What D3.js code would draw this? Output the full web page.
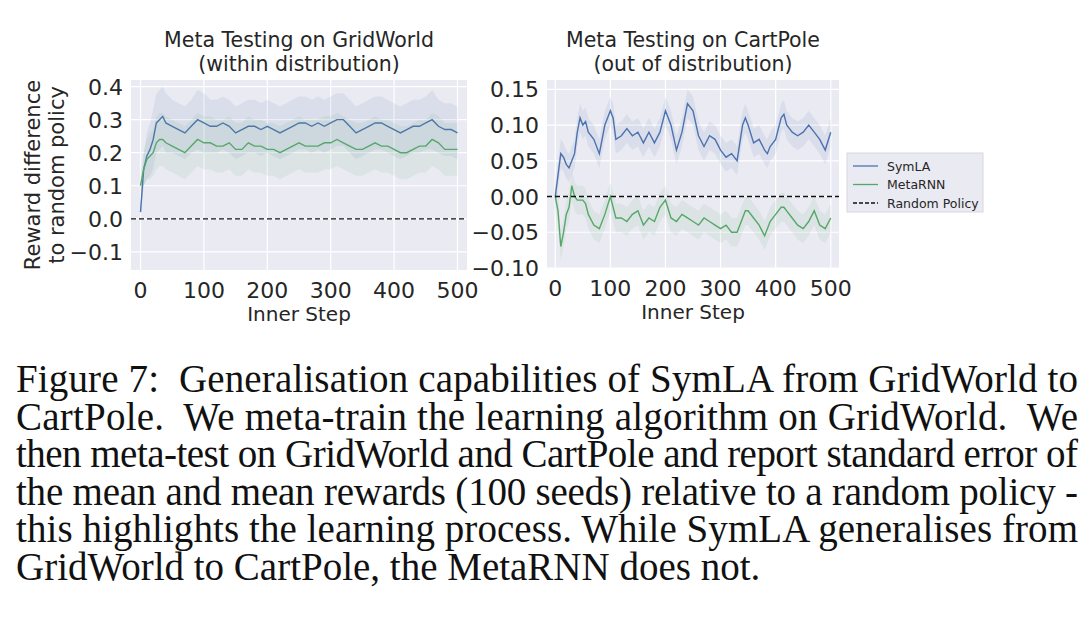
<!DOCTYPE html>
<html><head><meta charset="utf-8">
<script src="https://cdn.jsdelivr.net/npm/d3@7"></script>
<style>body{margin:0;background:#fff}</style>
</head><body>
<svg id="c" width="1092" height="632"></svg>
<script>
// GridWorld (left)
var gwSteps = [0,5,10,15,20,25,30,35,40,50,60,70,80,90,100,110,120,130,140,150,160,170,180,190,200,210,220,230,240,250,260,270,280,290,300,310,320,330,340,350,360,370,380,390,400,410,420,430,440,450,460,470,480,490,500];
var gwSym = [0.02,0.15,0.19,0.21,0.24,0.29,0.30,0.31,0.29,0.28,0.27,0.26,0.28,0.30,0.29,0.28,0.28,0.29,0.28,0.26,0.27,0.28,0.28,0.27,0.28,0.27,0.26,0.27,0.28,0.29,0.29,0.28,0.29,0.28,0.29,0.30,0.30,0.28,0.26,0.27,0.28,0.29,0.29,0.28,0.27,0.26,0.27,0.28,0.28,0.29,0.30,0.28,0.27,0.27,0.26];
var gwMeta = [0.10,0.15,0.18,0.19,0.20,0.23,0.24,0.24,0.23,0.22,0.21,0.20,0.22,0.24,0.23,0.23,0.22,0.22,0.23,0.21,0.21,0.23,0.22,0.22,0.21,0.21,0.20,0.21,0.22,0.23,0.22,0.22,0.22,0.23,0.23,0.24,0.23,0.22,0.21,0.21,0.22,0.23,0.22,0.22,0.21,0.20,0.20,0.21,0.22,0.22,0.24,0.23,0.21,0.21,0.21];
var gwSymErr = [0.02,0.05,0.07,0.08,0.09,0.09,0.09,0.09,0.09,0.08,0.08,0.08,0.08,0.09,0.09,0.08,0.08,0.08,0.08,0.08,0.08,0.08,0.08,0.08,0.08,0.08,0.08,0.08,0.08,0.08,0.08,0.08,0.08,0.08,0.08,0.08,0.08,0.08,0.08,0.08,0.08,0.08,0.08,0.08,0.08,0.08,0.08,0.08,0.08,0.08,0.09,0.08,0.08,0.08,0.08];
var gwMetaErr = [0.03,0.05,0.06,0.07,0.07,0.08,0.08,0.08,0.08,0.08,0.08,0.08,0.08,0.08,0.08,0.08,0.08,0.08,0.08,0.08,0.08,0.08,0.08,0.08,0.08,0.08,0.08,0.08,0.08,0.08,0.08,0.08,0.08,0.08,0.08,0.08,0.08,0.08,0.08,0.08,0.08,0.08,0.08,0.08,0.08,0.08,0.08,0.08,0.08,0.08,0.08,0.08,0.08,0.08,0.08];
// CartPole (right)
var cpSteps = [0,5,10,15,20,25,30,35,40,45,50,55,60,70,80,90,100,105,110,120,130,140,150,160,170,180,190,200,210,220,230,240,250,260,270,280,290,300,310,320,330,340,345,350,360,370,380,385,390,400,410,415,420,430,440,450,460,470,480,490,500];
var cpSym = [0.00,0.03,0.06,0.055,0.045,0.04,0.05,0.06,0.09,0.11,0.10,0.105,0.09,0.08,0.06,0.10,0.12,0.11,0.08,0.085,0.095,0.085,0.09,0.075,0.09,0.075,0.09,0.12,0.10,0.065,0.09,0.13,0.12,0.085,0.07,0.085,0.08,0.065,0.055,0.06,0.05,0.10,0.11,0.10,0.075,0.08,0.065,0.06,0.07,0.08,0.11,0.115,0.10,0.09,0.085,0.09,0.10,0.09,0.08,0.065,0.09];
var cpMeta = [0.00,-0.02,-0.07,-0.05,-0.025,-0.015,0.015,0.0,-0.005,-0.005,-0.005,-0.01,-0.025,-0.04,-0.045,-0.025,0.0,-0.015,-0.03,-0.03,-0.035,-0.025,-0.02,-0.04,-0.03,-0.035,-0.015,-0.005,-0.03,-0.035,-0.025,-0.03,-0.035,-0.04,-0.03,-0.035,-0.04,-0.045,-0.04,-0.05,-0.05,-0.03,-0.02,-0.02,-0.03,-0.04,-0.055,-0.045,-0.035,-0.025,-0.015,-0.015,-0.02,-0.03,-0.04,-0.045,-0.035,-0.02,-0.04,-0.045,-0.03];
var cpErr = 0.02;

var blue = '#4c72b0', green = '#55a868', bg = '#eaeaf2';
var svg = d3.select('#c');
var font = 'DejaVu Sans';

function panel(o){
  var x = d3.scaleLinear().domain([-15,515]).range([o.x0,o.x1]);
  var y = d3.scaleLinear().domain(o.ydom).range([o.y1,o.y0]);
  var g = svg.append('g');
  g.append('rect').attr('x',o.x0).attr('y',o.y0).attr('width',o.x1-o.x0).attr('height',o.y1-o.y0).attr('fill',bg);
  var xt = [0,100,200,300,400,500];
  g.selectAll('.gx').data(xt).enter().append('line')
    .attr('x1',d=>x(d)).attr('x2',d=>x(d)).attr('y1',o.y0).attr('y2',o.y1).attr('stroke','#fff').attr('stroke-width',1.2);
  g.selectAll('.gy').data(o.yticks).enter().append('line')
    .attr('y1',d=>y(d)).attr('y2',d=>y(d)).attr('x1',o.x0).attr('x2',o.x1).attr('stroke','#fff').attr('stroke-width',1.2);
  g.selectAll('.tx').data(xt).enter().append('text')
    .attr('x',d=>x(d)).attr('y',o.y1+28).attr('text-anchor','middle')
    .attr('font-family',font).attr('font-size',22).attr('fill','#262626').text(d=>d);
  g.selectAll('.ty').data(o.yticks).enter().append('text')
    .attr('x',o.x0-8).attr('y',d=>y(d)+8).attr('text-anchor','end')
    .attr('font-family',font).attr('font-size',22).attr('fill','#262626')
    .text(d=>d3.format(o.fmt)(d).replace('-','\u2212'));
  g.append('text').attr('x',(x(0)+x(500))/2).attr('y',o.y1+51).attr('text-anchor','middle')
    .attr('font-family',font).attr('font-size',20).attr('fill','#262626').text('Inner Step');
  g.append('text').attr('x',(o.x0+o.x1)/2).attr('y',o.y0-33).attr('text-anchor','middle')
    .attr('font-family',font).attr('font-size',20.5).attr('fill','#262626').text(o.t1);
  g.append('text').attr('x',(o.x0+o.x1)/2).attr('y',o.y0-9).attr('text-anchor','middle')
    .attr('font-family',font).attr('font-size',20.5).attr('fill','#262626').text(o.t2);
  o.series.forEach(function(s){
    var pts = o.steps.map((st,i)=>({s:st,v:s.v[i],e:Array.isArray(s.e)?s.e[i]:s.e}));
    g.append('path').datum(pts).attr('fill',s.c).attr('fill-opacity',0.1)
      .attr('d',d3.area().x(d=>x(d.s)).y0(d=>y(d.v-d.e)).y1(d=>y(d.v+d.e)));
    g.append('path').datum(pts).attr('fill','none').attr('stroke',s.c).attr('stroke-width',1.4)
      .attr('d',d3.line().x(d=>x(d.s)).y(d=>y(d.v)));
  });
  g.append('line').attr('x1',o.x0).attr('x2',o.x1).attr('y1',y(0)).attr('y2',y(0))
    .attr('stroke','#111').attr('stroke-width',1.3).attr('stroke-dasharray','5,3');
}

panel({x0:131,x1:467,y0:80,y1:270,ydom:[-0.155,0.42],yticks:[-0.1,0,0.1,0.2,0.3,0.4],fmt:'.1f',
  t1:'Meta Testing on GridWorld',t2:'(within distribution)',steps:gwSteps,
  series:[{v:gwSym,e:gwSymErr,c:blue},{v:gwMeta,e:gwMetaErr,c:green}]});
panel({x0:547,x1:839,y0:80,y1:268,ydom:[-0.1,0.163],yticks:[-0.1,-0.05,0,0.05,0.1,0.15],fmt:'.2f',
  t1:'Meta Testing on CartPole',t2:'(out of distribution)',steps:cpSteps,
  series:[{v:cpSym,e:cpErr,c:blue},{v:cpMeta,e:cpErr,c:green}]});

// y label
svg.append('text').attr('transform','translate(40,175) rotate(-90)').attr('text-anchor','middle')
  .attr('font-family',font).attr('font-size',21).attr('fill','#262626').text('Reward difference');
svg.append('text').attr('transform','translate(64,175) rotate(-90)').attr('text-anchor','middle')
  .attr('font-family',font).attr('font-size',21).attr('fill','#262626').text('to random policy');

// legend
var legItems = [{n:'SymLA',c:blue,d:null},{n:'MetaRNN',c:green,d:null},{n:'Random Policy',c:'#111',d:'4,2'}];
var lg = svg.append('g');
lg.append('rect').attr('x',847).attr('y',153).attr('width',136).attr('height',59).attr('fill',bg).attr('stroke','#d8d8e0');
legItems.forEach(function(it,i){
  var yy = 166+i*18.5;
  lg.append('line').attr('x1',853).attr('x2',878).attr('y1',yy).attr('y2',yy).attr('stroke',it.c).attr('stroke-width',1.3).attr('stroke-dasharray',it.d);
  lg.append('text').attr('x',887).attr('y',yy+4.5).attr('font-family',font).attr('font-size',12.5).attr('fill','#262626').text(it.n);
});

// caption
var caption = ['Figure 7:  Generalisation capabilities of SymLA from GridWorld to',
 'CartPole.  We meta-train the learning algorithm on GridWorld.  We',
 'then meta-test on GridWorld and CartPole and report standard error of',
 'the mean and mean rewards (100 seeds) relative to a random policy -',
 'this highlights the learning process. While SymLA generalises from',
 'GridWorld to CartPole, the MetaRNN does not.'];
caption.forEach(function(t,i){
  var tx = svg.append('text').attr('x',16).attr('y',392+i*37.6).attr('font-family','Liberation Serif')
    .attr('font-size',39).attr('fill','#111').attr('xml:space','preserve').text(t);
  if(i<caption.length-1) tx.attr('textLength',1062).attr('lengthAdjust','spacing');
});
</script>
</body></html>
